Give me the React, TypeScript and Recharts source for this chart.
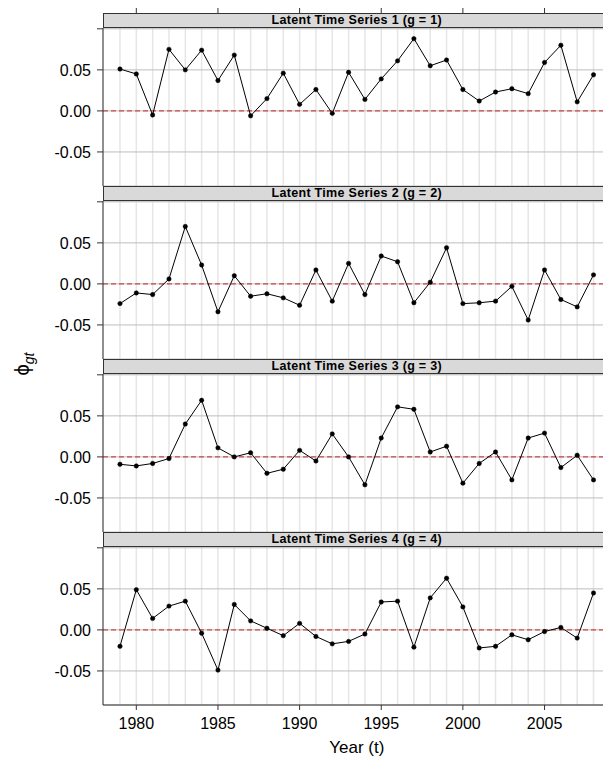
import { LineChart, Line, XAxis, YAxis, CartesianGrid, ReferenceLine } from "recharts";

const years = [
  1979, 1980, 1981, 1982, 1983, 1984, 1985, 1986, 1987, 1988, 1989, 1990, 1991, 1992, 1993,
  1994, 1995, 1996, 1997, 1998, 1999, 2000, 2001, 2002, 2003, 2004, 2005, 2006, 2007, 2008,
];
const yearTicks = [1980, 1985, 1990, 1995, 2000, 2005];
const phiTicks = [-0.05, 0, 0.05, 0.1];

const panelTitles = [
  "Latent Time Series 1 (g = 1)",
  "Latent Time Series 2 (g = 2)",
  "Latent Time Series 3 (g = 3)",
  "Latent Time Series 4 (g = 4)",
];

const phi1 = [
  0.051, 0.045, -0.005, 0.075, 0.05, 0.074, 0.037, 0.068, -0.006, 0.015, 0.046, 0.008, 0.026, -0.003, 0.047,
  0.014, 0.039, 0.061, 0.088, 0.055, 0.062, 0.026, 0.012, 0.023, 0.027, 0.021, 0.059, 0.08, 0.011, 0.044,
];
const phi2 = [
  -0.024, -0.011, -0.013, 0.006, 0.07, 0.023, -0.034, 0.01, -0.015, -0.012, -0.017, -0.026, 0.017, -0.021, 0.025,
  -0.013, 0.034, 0.027, -0.023, 0.002, 0.044, -0.024, -0.023, -0.021, -0.003, -0.044, 0.017, -0.019, -0.028, 0.011,
];
const phi3 = [
  -0.009, -0.011, -0.008, -0.002, 0.04, 0.069, 0.011, 0.0, 0.005, -0.02, -0.015, 0.008, -0.005, 0.028, 0.0,
  -0.034, 0.023, 0.061, 0.058, 0.006, 0.013, -0.032, -0.008, 0.006, -0.028, 0.023, 0.029, -0.013, 0.002, -0.028,
];
const phi4 = [
  -0.02, 0.049, 0.014, 0.029, 0.035, -0.004, -0.049, 0.031, 0.011, 0.002, -0.007, 0.008, -0.008, -0.017, -0.014,
  -0.005, 0.034, 0.035, -0.021, 0.039, 0.063, 0.028, -0.022, -0.02, -0.006, -0.012, -0.002, 0.003, -0.01, 0.045,
];

const allSeries = [phi1, phi2, phi3, phi4];

const X_DOMAIN: [number, number] = [1977.96, 2009.04];
const Y_DOMAIN: [number, number] = [-0.0915, 0.101];

const FONT = "'Liberation Sans', Arial, Helvetica, sans-serif";
const STRIP_H = 15;
const PLOT_H = 158;
const PANEL_PITCH = 173;
const FIRST_TOP = 12.5;
const CHART_W = 620;
const AXIS_W = 103;
const RIGHT_PAD = 9.5;

function TopTick(props: { x?: number; y?: number }) {
  const x = props.x ?? 0;
  const y = props.y ?? 0;
  return <line x1={x} x2={x} y1={y - STRIP_H} y2={y - STRIP_H - 5} stroke="#333" strokeWidth={1} />;
}

function Panel({ title, values, index, last }: { title: string; values: number[]; index: number; last: boolean }) {
  const data = years.map((year, i) => ({ year, phi: values[i] }));
  const plotTop = FIRST_TOP + PANEL_PITCH * index + STRIP_H;
  const topH = index === 0 ? 20 : 0;
  const bottomH = last ? 30 : 0;

  return (
    <>
      <div style={{ position: "absolute", top: plotTop - topH, left: 0 }}>
        <LineChart
          width={CHART_W}
          height={topH + PLOT_H + bottomH}
          data={data}
          margin={{ top: 0, right: RIGHT_PAD, bottom: 0, left: 0 }}
        >
          <XAxis
            xAxisId="grid"
            hide
            type="number"
            dataKey="year"
            domain={X_DOMAIN}
            ticks={years}
            interval={0}
            allowDataOverflow
          />
          {index === 0 && (
            <XAxis
              xAxisId="top"
              orientation="top"
              type="number"
              dataKey="year"
              domain={X_DOMAIN}
              ticks={yearTicks}
              interval={0}
              height={topH}
              axisLine={false}
              tickLine={false}
              tickSize={0}
              tickMargin={0}
              tick={<TopTick />}
              allowDataOverflow
            />
          )}
          <XAxis
            type="number"
            dataKey="year"
            domain={X_DOMAIN}
            ticks={yearTicks}
            interval={0}
            hide={!last}
            height={bottomH}
            stroke="#333"
            tickSize={5}
            tickMargin={8}
            tick={{ fill: "#000", fontSize: 16, fontFamily: FONT }}
            allowDataOverflow
          />
          <YAxis
            type="number"
            domain={Y_DOMAIN}
            ticks={phiTicks}
            interval={0}
            width={AXIS_W}
            stroke="#333"
            tickSize={6}
            tickMargin={6}
            tick={{ fill: "#000", fontSize: 16, fontFamily: FONT }}
            tickFormatter={(v: number) => (v > 0.09 ? "" : v.toFixed(2))}
            allowDataOverflow
          />
          <CartesianGrid xAxisId="grid" horizontal={false} stroke="#e6e6e6" strokeWidth={1.5} />
          <CartesianGrid vertical={false} stroke="#bdbdbd" strokeWidth={1} />
          <ReferenceLine y={0} stroke="#cc2222" strokeWidth={1} strokeDasharray="5 3" />
          <Line
            type="linear"
            dataKey="phi"
            stroke="#000"
            strokeWidth={1}
            dot={{ r: 2.2, fill: "#000", stroke: "#000", strokeWidth: 0.5 }}
            activeDot={false}
            isAnimationActive={false}
          />
        </LineChart>
      </div>
      <div
        style={{
          position: "absolute",
          top: plotTop - STRIP_H,
          left: AXIS_W,
          width: CHART_W - AXIS_W - RIGHT_PAD,
          height: STRIP_H,
          boxSizing: "border-box",
          background: "#d9d9d9",
          border: "1px solid #333",
          fontFamily: FONT,
          fontWeight: "bold",
          fontSize: 12.5,
          letterSpacing: "0.3px",
          lineHeight: "13px",
          textAlign: "center",
          color: "#000",
        }}
      >
        {title}
      </div>
    </>
  );
}

export default function App() {
  return (
    <div
      style={{
        position: "absolute",
        top: 0,
        left: 0,
        width: 603,
        height: 759,
        overflow: "hidden",
        background: "#fff",
        fontFamily: FONT,
      }}
    >
      {allSeries.map((values, i) => (
        <Panel key={i} title={panelTitles[i]} values={values} index={i} last={i === allSeries.length - 1} />
      ))}
      <svg width={50} height={759} style={{ position: "absolute", top: 0, left: 0 }}>
        <text
          x={29}
          y={364}
          transform="rotate(-90, 29, 364)"
          textAnchor="middle"
          fontFamily={FONT}
          fontSize={20}
          fill="#000"
        >
          <tspan>ϕ</tspan>
          <tspan fontStyle="italic" fontSize={14} dy={5}>
            gt
          </tspan>
        </text>
      </svg>
      <div
        style={{
          position: "absolute",
          top: 738,
          left: AXIS_W,
          width: CHART_W - AXIS_W - RIGHT_PAD,
          textAlign: "center",
          fontFamily: FONT,
          fontSize: 17,
          lineHeight: "20px",
          color: "#000",
        }}
      >
        Year (t)
      </div>
    </div>
  );
}
